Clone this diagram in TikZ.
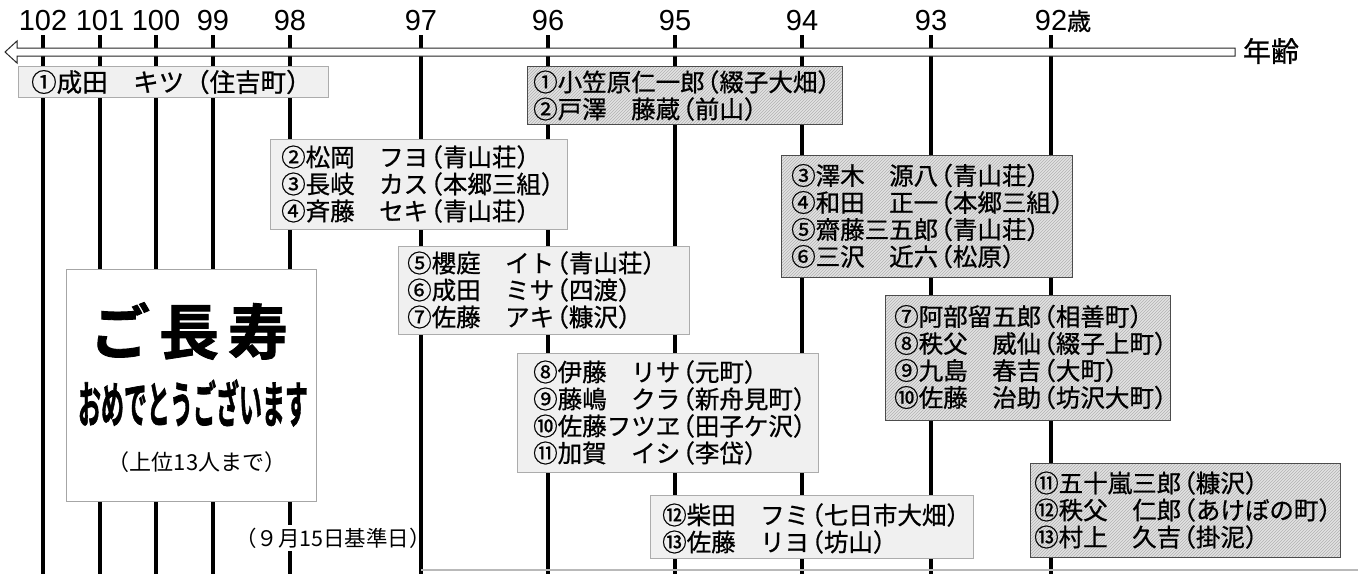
\documentclass[tikz,border=0pt]{standalone}
\usepackage{fontspec}
\usetikzlibrary{patterns}
\newfontfamily\jp{Noto Sans CJK JP}
\newfontfamily\jpm[FakeBold=0.8]{Noto Sans CJK JP}
\newfontfamily\jpb[FakeBold=1.5]{Noto Sans CJK JP Bold}
\newfontfamily\lat{Liberation Sans}
\newcommand\kL{\makebox[0.6em][r]{（}}
\newcommand\kR{\makebox[0.6em][l]{）}}
\tikzset{
 vline/.style={line width=3.5pt, black},
 lbox/.style={draw=gray!65, line width=0.8pt, fill=gray!12, anchor=north west, inner sep=0},
 hbox/.style={draw=gray!60!black, line width=0.8pt, preaction={fill=gray!22}, pattern=north east lines, pattern color=gray!60, anchor=north west, inner sep=0},
 wbox/.style={draw=gray!70, line width=0.8pt, fill=white, anchor=north west, inner sep=0},
 btxt/.style={anchor=west, align=left, inner sep=0, font=\jpm\fontsize{24.5}{27}\selectfont},
 age/.style={font=\lat\fontsize{29}{29}\selectfont, inner sep=0},
}
\begin{document}
\begin{tikzpicture}[x=1pt,y=-1pt]
\useasboundingbox[fill=white] (0,0) rectangle (1358,574);
% age labels
\node[age] (l102) at (43,21) {102};
\node[age] (l101) at (100,21) {101};
\node[age] (l100) at (156,21) {100};
\node[age] (l99) at (213,21) {99};
\node[age] (l98) at (290,21) {98};
\node[age] (l97) at (421,21) {97};
\node[age] (l96) at (548,21) {96};
\node[age] (l95) at (675,21) {95};
\node[age] (l94) at (802,21) {94};
\node[age] (l93) at (931,21) {93};
\node[age] (l92) at (1051,21) {92\makebox[0pt][l]{\jpm\fontsize{24}{24}\selectfont 歳}};
% vertical lines
\foreach \x in {43,100,156,213,290,421,548,675,802,931,1051}
  \draw[vline] (\x,35) -- (\x,574);
% bottom scan edge
\draw[gray!55, line width=1.5pt] (421,570) -- (1358,570);
% axis arrow
\draw[gray!30!black, line width=1pt, fill=white] (1235,48) -- (17,48) -- (17,41) -- (5,52) -- (17,63) -- (17,56) -- (1235,56) -- cycle;
\node[font=\jpm\fontsize{28}{28}\selectfont, inner sep=0] (nenrei) at (1271,51) {年齢};
% boxes
\node[lbox, minimum width=310, minimum height=31] (A) at (18,66) {};
\node[btxt, font=\jpm\fontsize{25.5}{27}\selectfont] at (31,82) {①成田　キツ（住吉町）};
\node[hbox, minimum width=315, minimum height=58] (B) at (527,66) {};
\node[btxt] at (533,95.5) {①小笠原仁一郎\kL 綴子大畑\kR\\②戸澤　藤蔵\kL 前山\kR};
\node[lbox, minimum width=297, minimum height=90] (C) at (270,139) {};
\node[btxt] at (281,184) {②松岡　フヨ\kL 青山荘\kR\\③長岐　カス\kL 本郷三組\kR\\④斉藤　セキ\kL 青山荘\kR};
\node[hbox, minimum width=291, minimum height=122] (D) at (781,155) {};
\node[btxt] at (791,216) {③澤木　源八\kL 青山荘\kR\\④和田　正一\kL 本郷三組\kR\\⑤齋藤三五郎\kL 青山荘\kR\\⑥三沢　近六\kL 松原\kR};
\node[lbox, minimum width=291, minimum height=88] (E) at (398,246) {};
\node[btxt] at (407,290) {⑤櫻庭　イト\kL 青山荘\kR\\⑥成田　ミサ\kL 四渡\kR\\⑦佐藤　アキ\kL 糠沢\kR};
\node[hbox, minimum width=285, minimum height=125] (F) at (885,295) {};
\node[btxt] at (894,357) {⑦阿部留五郎\kL 相善町\kR\\⑧秩父　威仙\kL 綴子上町\kR\\⑨九島　春吉\kL 大町\kR\\⑩佐藤　治助\kL 坊沢大町\kR};
\node[lbox, minimum width=301, minimum height=119] (G) at (517,353) {};
\node[btxt] at (533,412.5) {⑧伊藤　リサ\kL 元町\kR\\⑨藤嶋　クラ\kL 新舟見町\kR\\⑩佐藤フツヱ\kL 田子ケ沢\kR\\⑪加賀　イシ\kL 李岱\kR};
\node[lbox, minimum width=323, minimum height=63] (H) at (650,495) {};
\node[btxt] at (662,528.5) {⑫柴田　フミ\kL 七日市大畑\kR\\⑬佐藤　リヨ\kL 坊山\kR};
\node[hbox, minimum width=310, minimum height=94] (I) at (1030,463) {};
\node[btxt] at (1034,510) {⑪五十嵐三郎\kL 糠沢\kR\\⑫秩父　仁郎\kL あけぼの町\kR\\⑬村上　久吉\kL 掛泥\kR};
% greeting box
\node[wbox, minimum width=250, minimum height=232] (W) at (66,269) {};
\node[font=\jpb\fontsize{60}{60}\selectfont, inner sep=0] (cho) at (189,331) {ご\hspace{9pt}長\hspace{9pt}寿};
\node[font=\jpb\fontsize{50}{50}\selectfont, inner sep=0] (omed) at (193,403) {\scalebox{0.46}[1]{おめでとうございます}};
\node[font=\jp\fontsize{22}{22}\selectfont, inner sep=0] (jyoi) at (197,462) {（上位13人まで）};
% date
\fill[white] (286,525) rectangle (294,551);
\node[font=\jp\fontsize{21.5}{21.5}\selectfont, inner sep=0] (date) at (333,538) {\kL ９月15日基準日\kR};
\end{tikzpicture}
\end{document}
